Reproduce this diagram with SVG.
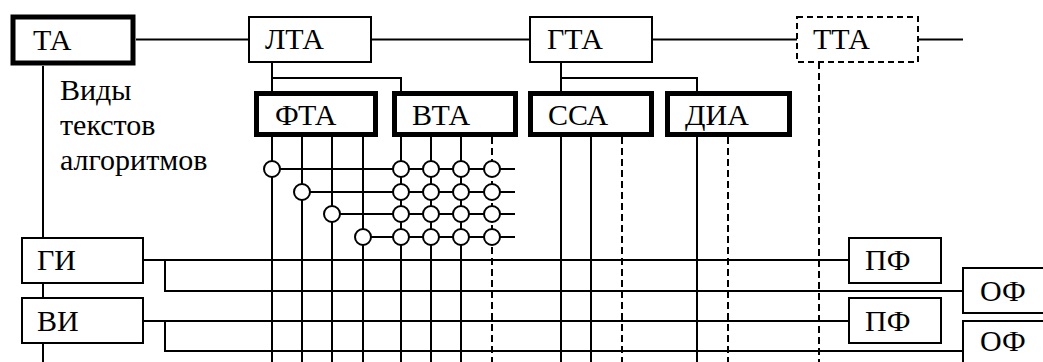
<svg xmlns="http://www.w3.org/2000/svg" width="1043" height="362" viewBox="0 0 1043 362">
<style>
.ln{stroke:#000;stroke-width:2;fill:none}
.ds{stroke:#000;stroke-width:2;fill:none;stroke-dasharray:7,4}
.bx{fill:#fff;stroke:#000;stroke-width:2}
.tk{fill:#fff;stroke:#000;stroke-width:5}
.db{fill:#fff;stroke:#000;stroke-width:2;stroke-dasharray:6,4}
.c{fill:#fff;stroke:#000;stroke-width:2}
</style>
<g id="connectors">
<path class="ln" d="M136 39.5H249M371 39.5H530M652 39.5H797M918 39.5H963"/>
<path class="ln" d="M43 66V362"/>
<path class="ln" d="M272 62V93M272 78H401V93M561 62V93M561 78H697V93"/>
<path class="ln" d="M272 137V362M302 137V362M332 137V362M363 137V362M401 137V362M431 137V362M461 137V362M561 137V362M591 137V362M697 137V362"/>
<path class="ds" d="M492 137V362M622 137V362M728 137V362M819 62V362"/>
<path class="ln" d="M272 169H515M302 192H515M332 214H515M363 237H515"/>
<path class="ln" d="M143 260H849M165 260V291H963M143 321H849M165 321V351H963"/>
</g>
<g id="circles">
<circle class="c" cx="272" cy="169" r="8"/><circle class="c" cx="401" cy="169" r="8"/><circle class="c" cx="431" cy="169" r="8"/><circle class="c" cx="461" cy="169" r="8"/><circle class="c" cx="492" cy="169" r="8"/>
<circle class="c" cx="302" cy="192" r="8"/><circle class="c" cx="401" cy="192" r="8"/><circle class="c" cx="431" cy="192" r="8"/><circle class="c" cx="461" cy="192" r="8"/><circle class="c" cx="492" cy="192" r="8"/>
<circle class="c" cx="332" cy="214" r="8"/><circle class="c" cx="401" cy="214" r="8"/><circle class="c" cx="431" cy="214" r="8"/><circle class="c" cx="461" cy="214" r="8"/><circle class="c" cx="492" cy="214" r="8"/>
<circle class="c" cx="363" cy="237" r="8"/><circle class="c" cx="401" cy="237" r="8"/><circle class="c" cx="431" cy="237" r="8"/><circle class="c" cx="461" cy="237" r="8"/><circle class="c" cx="492" cy="237" r="8"/>
</g>
<g font-family="'Liberation Serif','DejaVu Serif','Times New Roman',serif" font-size="30" fill="#000">
<g id="TA"><rect class="tk" x="13" y="17" width="120" height="46"/><text x="33" y="50">ТА</text></g>
<g id="label"><text x="60" y="100">Виды</text><text x="60" y="135">текстов</text><text x="60" y="170">алгоритмов</text></g>
<g id="LTA"><rect class="bx" x="249" y="17" width="122" height="45"/><text x="265" y="49">ЛТА</text></g>
<g id="GTA"><rect class="bx" x="530" y="17" width="122" height="45"/><text x="547" y="49">ГТА</text></g>
<g id="TTA"><rect class="db" x="797" y="17" width="121" height="45"/><text x="813" y="49">ТТА</text></g>
<g id="FTA"><rect class="tk" x="256.5" y="93.5" width="119" height="41"/><text x="275" y="125">ФТА</text></g>
<g id="VTA"><rect class="tk" x="394.5" y="93.5" width="121" height="41"/><text x="412" y="125">ВТА</text></g>
<g id="SSA"><rect class="tk" x="530.5" y="93.5" width="121" height="41"/><text x="548" y="125">ССА</text></g>
<g id="DIA"><rect class="tk" x="667.5" y="93.5" width="122" height="41"/><text x="685" y="125">ДИА</text></g>
<g id="GI"><rect class="bx" x="22" y="238" width="121" height="45"/><text x="37" y="270">ГИ</text></g>
<g id="VI"><rect class="bx" x="22" y="298" width="121" height="45"/><text x="37" y="331">ВИ</text></g>
<g id="PF1"><rect class="bx" x="849" y="238" width="92" height="45"/><text x="865" y="270">ПФ</text></g>
<g id="PF2"><rect class="bx" x="849" y="298" width="92" height="45"/><text x="865" y="331">ПФ</text></g>
<g id="OF1"><rect class="bx" x="963" y="268" width="100" height="45"/><text x="980" y="301">ОФ</text></g>
<g id="OF2"><rect class="bx" x="963" y="321" width="100" height="60"/><text x="980" y="351">ОФ</text></g>
</g>
</svg>
